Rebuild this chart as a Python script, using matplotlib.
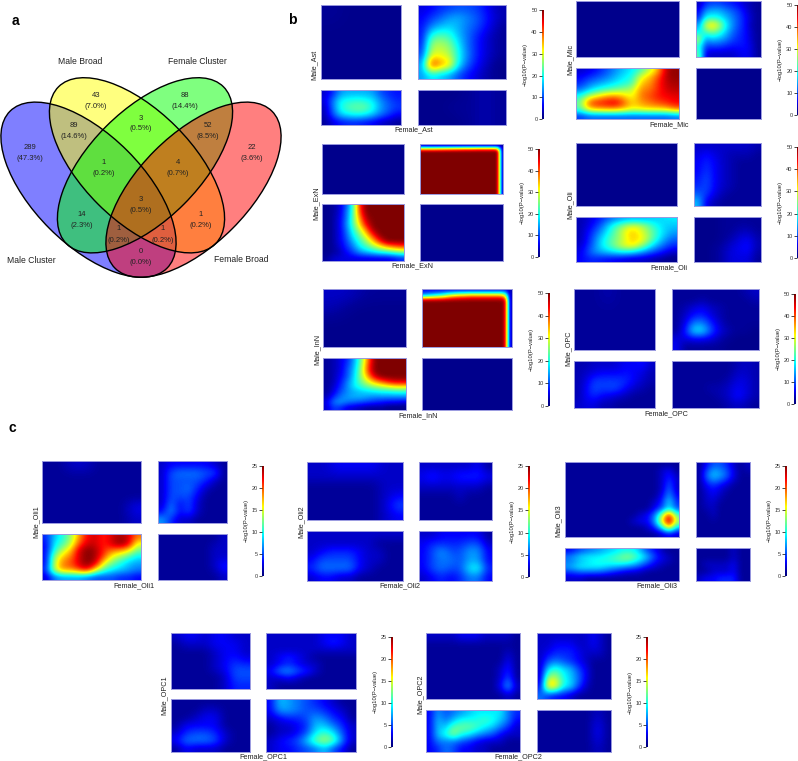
import numpy as np
import matplotlib
matplotlib.use('Agg')
import matplotlib.pyplot as plt
from matplotlib.colors import LinearSegmentedColormap
from matplotlib.patches import Ellipse

plt.rcParams['font.family'] = ['Liberation Sans', 'DejaVu Sans']

W, H = 798, 761
TEXT = '#222222'

#Venn counts
venn_names = ['Male Cluster', 'Male Broad', 'Female Cluster', 'Female Broad']
venn_counts = [289, 43, 88, 22, 89, 3, 52, 1, 4, 14, 3, 1, 1, 1, 0]
venn_pcts = ['47.3', '7.0', '14.4', '3.6', '14.6', '0.5', '8.5', '0.2', '0.7',
             '2.3', '0.5', '0.2', '0.2', '0.2', '0.0']

#colourbar ticks
ticks_b = [0, 10, 20, 30, 40, 50]
ticks_c = [0, 5, 10, 15, 20, 25]

#Heatmaps, -log10(P-value) read by eye, top row first
flat_low = [[1, 1, 1, 1], [1, 1, 1, 1], [1, 1, 1, 1]]

ast_tl = [[2, 1, 1, 1], [1, 1, 1, 1], [1, 1, 1, 1], [1, 1, 1, 1]]
ast_tr = [[5, 6, 8, 9, 10, 10, 9, 7, 4, 3],
          [6, 9, 11, 14, 15, 13, 11, 8, 5, 3],
          [7, 13, 16, 17, 15, 12, 10, 7, 4, 2],
          [7, 22, 24, 22, 16, 12, 8, 5, 3, 2],
          [8, 27, 28, 26, 19, 12, 8, 5, 3, 2],
          [10, 30, 30, 28, 20, 13, 8, 5, 3, 2],
          [14, 45, 38, 34, 19, 11, 7, 4, 2, 1],
          [14, 18, 16, 14, 10, 7, 5, 3, 2, 1]]
ast_bl = [[4, 8, 14, 15, 15, 15, 14, 10, 8, 7],
          [5, 12, 19, 20, 21, 20, 18, 13, 10, 8],
          [3, 12, 20, 23, 24, 24, 20, 14, 11, 9],
          [3, 10, 17, 19, 20, 19, 16, 12, 9, 6],
          [2, 5, 7, 8, 8, 7, 6, 4, 3, 2]]
ast_br = [[1, 1, 1, 2, 3, 2], [1, 1, 2, 2, 3, 2], [1, 1, 1, 2, 3, 2]]

exn_tr = [[3, 3, 3, 3, 3, 3, 3, 3, 3, 3, 3, 3, 3, 3, 3, 3, 3, 3, 3, 2],
          [31, 31, 31, 31, 32, 32, 33, 33, 34, 34, 35, 35, 35, 36, 36, 36, 36, 36, 33, 3]] + \
         [[50, 50, 50, 50, 50, 50, 50, 50, 50, 50, 50, 50, 50, 50, 50, 50, 50, 50, 50, 3]] * 14
exn_bl = [[1, 2, 4, 10, 20, 42, 50, 50, 50, 50, 50, 50],
          [1, 2, 4, 11, 21, 40, 50, 50, 50, 50, 50, 50],
          [1, 2, 5, 11, 22, 36, 48, 50, 50, 50, 50, 50],
          [1, 2, 5, 12, 22, 33, 45, 50, 50, 50, 50, 50],
          [1, 2, 5, 11, 20, 28, 38, 49, 50, 50, 50, 50],
          [1, 2, 5, 10, 18, 24, 32, 42, 50, 50, 50, 50],
          [1, 2, 5, 9, 15, 21, 26, 34, 43, 50, 50, 50],
          [1, 2, 4, 8, 12, 18, 22, 26, 30, 35, 38, 40],
          [1, 2, 3, 6, 9, 13, 15, 17, 19, 20, 22, 24],
          [2, 4, 5, 5, 5, 5, 5, 5, 5, 5, 6, 8]]

mic_tr = [[3, 8, 9, 9, 8, 7, 6, 4, 3, 2],
          [6, 13, 15, 15, 13, 11, 9, 6, 3, 2],
          [8, 19, 20, 19, 16, 13, 10, 7, 4, 2],
          [14, 30, 34, 29, 20, 14, 10, 7, 3, 2],
          [18, 22, 25, 22, 17, 12, 9, 7, 4, 2],
          [28, 14, 16, 15, 13, 10, 8, 7, 4, 2],
          [20, 9, 9, 9, 8, 7, 7, 7, 5, 2],
          [24, 5, 4, 4, 4, 4, 5, 6, 5, 2]]
mic_bl = [[4, 5, 7, 10, 13, 16, 18, 22, 28, 35, 48, 49],
          [6, 8, 10, 12, 15, 18, 20, 30, 34, 40, 48, 49],
          [8, 12, 14, 16, 18, 20, 22, 34, 36, 42, 47, 48],
          [12, 16, 20, 22, 24, 26, 28, 37, 38, 42, 46, 47],
          [20, 28, 32, 36, 37, 34, 30, 38, 40, 43, 44, 45],
          [24, 40, 43, 44, 46, 40, 33, 36, 38, 40, 42, 44],
          [22, 33, 35, 36, 36, 34, 31, 32, 33, 33, 34, 38],
          [9, 11, 11, 11, 11, 11, 11, 11, 11, 11, 11, 12]]

oli_tr = [[4, 4, 4, 4, 4, 4, 4, 3],
          [5, 7, 5, 4, 3, 3, 3, 2],
          [6, 8, 6, 4, 3, 2, 2, 2],
          [6, 9, 6, 4, 3, 2, 2, 2],
          [7, 10, 6, 4, 3, 2, 2, 2],
          [8, 10, 6, 4, 3, 2, 2, 2],
          [11, 9, 5, 3, 2, 2, 2, 2],
          [16, 5, 3, 2, 2, 2, 2, 2]]
oli_bl = [[3, 5, 8, 12, 14, 15, 15, 16, 17, 18],
          [3, 6, 11, 19, 25, 30, 28, 22, 17, 16],
          [3, 8, 14, 21, 28, 35, 30, 24, 18, 14],
          [3, 9, 17, 23, 27, 34, 32, 24, 16, 11],
          [4, 10, 18, 23, 29, 33, 27, 18, 12, 8],
          [5, 12, 15, 17, 19, 18, 14, 10, 7, 4],
          [6, 8, 7, 6, 5, 4, 4, 3, 2, 1]]
oli_br = [[1, 1, 1, 2, 2, 2, 2, 2],
          [1, 1, 1, 2, 2, 3, 3, 2],
          [1, 1, 1, 2, 3, 5, 6, 3],
          [1, 1, 2, 3, 5, 6, 7, 3],
          [1, 1, 2, 3, 5, 5, 5, 2]]

inn_tl = [[4, 4, 3, 2, 2, 2], [3, 2, 1, 1, 1, 1], [1, 1, 1, 1, 1, 1], [1, 1, 1, 1, 1, 1]]
inn_tr = [[6, 6, 6, 6, 6, 6, 6, 6, 6, 6, 6, 6, 6, 6, 6, 6, 6, 6, 6, 3],
          [14, 16, 18, 20, 22, 26, 30, 32, 34, 34, 36, 36, 36, 36, 36, 36, 36, 36, 30, 3]] + \
         [[50, 50, 50, 50, 50, 50, 50, 50, 50, 50, 50, 50, 50, 50, 50, 50, 50, 50, 48, 3]] * 10
inn_bl = [[2, 3, 5, 8, 14, 24, 38, 50, 50, 50, 50, 50],
          [2, 3, 5, 9, 15, 25, 40, 50, 50, 50, 50, 50],
          [2, 3, 5, 10, 16, 26, 40, 50, 50, 50, 50, 50],
          [2, 3, 6, 10, 17, 26, 36, 46, 50, 50, 50, 50],
          [2, 3, 7, 12, 18, 24, 30, 36, 40, 44, 46, 46],
          [2, 4, 8, 13, 18, 21, 24, 26, 28, 30, 32, 32],
          [2, 5, 10, 13, 15, 16, 17, 18, 19, 19, 20, 20],
          [3, 8, 12, 14, 15, 15, 14, 13, 13, 13, 13, 13],
          [5, 12, 14, 12, 11, 10, 9, 8, 7, 6, 6, 5],
          [4, 9, 8, 5, 4, 3, 2, 2, 2, 1, 1, 1]]

opc_tl = [[2, 2, 3, 2, 2, 2], [2, 2, 2, 2, 2, 2], [2, 2, 2, 2, 2, 2], [2, 2, 2, 2, 2, 2]]
opc_tr = [[2, 2, 2, 2, 2, 2, 2, 2, 3, 4],
          [2, 2, 2, 3, 2, 2, 2, 2, 2, 3],
          [2, 3, 5, 6, 4, 3, 2, 2, 2, 2],
          [2, 4, 7, 8, 5, 3, 2, 2, 2, 2],
          [2, 5, 13, 13, 8, 4, 2, 2, 2, 2],
          [2, 7, 18, 18, 10, 5, 3, 2, 2, 1],
          [5, 5, 6, 6, 5, 3, 2, 1, 1, 1],
          [6, 2, 2, 2, 2, 2, 1, 1, 1, 1]]
opc_bl = [[3, 3, 4, 4, 4, 5, 6, 6, 7, 4],
          [3, 4, 5, 6, 6, 6, 7, 6, 5, 3],
          [3, 5, 9, 9, 9, 9, 8, 6, 4, 3],
          [3, 6, 10, 9, 10, 9, 6, 4, 3, 2],
          [3, 6, 8, 6, 5, 4, 3, 2, 2, 2],
          [4, 5, 5, 3, 3, 2, 2, 2, 2, 2]]
opc_br = [[2, 2, 2, 2, 2, 2, 2, 3, 4, 3],
          [2, 2, 2, 2, 2, 2, 2, 4, 4, 3],
          [2, 2, 2, 2, 2, 2, 3, 5, 5, 3],
          [2, 2, 2, 2, 3, 3, 4, 6, 5, 3],
          [2, 2, 2, 2, 2, 3, 4, 7, 5, 3],
          [2, 2, 2, 2, 2, 2, 3, 4, 3, 2]]

oli1_tl = [[1, 1, 2, 2, 1, 1, 1, 1],
           [1, 1, 1, 1, 1, 1, 1, 1],
           [1, 1, 1, 1, 1, 1, 1, 1],
           [1, 1, 1, 1, 1, 1, 1, 1],
           [1, 1, 1, 1, 1, 1, 1, 3],
           [1, 1, 1, 1, 1, 1, 1, 2]]
oli1_tr = [[2, 3, 3, 3, 3, 3, 2, 1],
           [2, 5, 6, 6, 6, 5, 5, 1],
           [2, 5, 5, 5, 5, 4, 2, 1],
           [2, 5, 5, 6, 4, 2, 1, 1],
           [2, 5, 5, 5, 3, 1, 1, 1],
           [2, 6, 3, 5, 2, 1, 1, 1],
           [3, 7, 3, 5, 2, 1, 1, 1],
           [7, 4, 2, 2, 1, 1, 1, 1]]
oli1_bl = [[4, 8, 10, 13, 18, 22, 23, 21, 23, 24, 23, 19],
           [3, 9, 11, 14, 20, 23, 23, 21, 23, 25, 23, 15],
           [3, 10, 14, 17, 23, 25, 24, 21, 19, 18, 16, 12],
           [3, 13, 17, 19, 23, 25, 24, 20, 15, 13, 11, 9],
           [3, 14, 19, 20, 23, 25, 23, 15, 12, 10, 8, 7],
           [4, 14, 18, 18, 20, 22, 15, 11, 9, 8, 7, 6],
           [2, 6, 7, 7, 7, 6, 5, 5, 5, 4, 4, 3]]
oli1_br = [[1, 1, 1, 1, 1, 1, 1, 2],
           [1, 1, 1, 1, 1, 1, 2, 2],
           [1, 1, 1, 1, 1, 1, 2, 2],
           [1, 1, 1, 1, 1, 1, 2, 4],
           [1, 1, 1, 1, 1, 1, 1, 2]]

oli2_tl = [[2, 2, 3, 3, 3, 3, 2, 2],
           [2, 2, 2, 2, 2, 2, 2, 2],
           [1, 1, 1, 1, 1, 1, 2, 2],
           [1, 1, 1, 1, 1, 1, 2, 3],
           [1, 1, 1, 1, 1, 1, 2, 5],
           [1, 1, 1, 1, 1, 1, 2, 3]]
oli2_tr = [[2, 2, 2, 2, 2, 2, 3, 1],
           [3, 4, 3, 3, 4, 4, 4, 3],
           [2, 2, 2, 2, 2, 2, 2, 1],
           [1, 1, 1, 1, 2, 1, 1, 1],
           [1, 1, 1, 1, 1, 1, 1, 1],
           [1, 1, 1, 1, 1, 1, 1, 1]]
oli2_bl = [[2, 2, 2, 2, 2, 2, 2, 2, 2, 2],
           [2, 2, 2, 2, 2, 2, 2, 1, 1, 1],
           [2, 3, 4, 4, 4, 3, 2, 2, 1, 1],
           [3, 5, 5, 5, 5, 3, 2, 2, 1, 1],
           [4, 6, 6, 6, 6, 3, 2, 1, 1, 1],
           [2, 3, 3, 2, 2, 1, 1, 1, 1, 1]]
oli2_br = [[2, 2, 3, 3, 3, 3, 3, 1],
           [3, 4, 4, 4, 4, 5, 5, 2],
           [3, 5, 7, 5, 5, 7, 7, 3],
           [3, 5, 6, 6, 5, 7, 7, 3],
           [3, 5, 6, 5, 5, 9, 10, 4],
           [2, 3, 4, 3, 4, 6, 6, 3]]

oli3_tl = [[1, 1, 1, 1, 1, 1, 1, 1, 1, 1, 1, 1, 1, 1, 1, 1],
           [1, 1, 1, 1, 1, 1, 1, 1, 1, 1, 1, 1, 1, 2, 3, 1],
           [1, 1, 1, 1, 1, 1, 1, 1, 1, 1, 1, 1, 1, 2, 4, 2],
           [1, 1, 1, 1, 1, 1, 1, 1, 1, 1, 1, 1, 1, 2, 5, 2],
           [1, 1, 1, 1, 1, 1, 1, 1, 1, 1, 1, 1, 1, 2, 6, 2],
           [1, 1, 1, 1, 1, 1, 1, 1, 1, 1, 1, 1, 1, 3, 7, 3],
           [1, 1, 1, 1, 1, 1, 1, 1, 1, 1, 1, 1, 2, 4, 9, 4],
           [1, 1, 1, 1, 1, 1, 1, 1, 1, 1, 1, 1, 3, 5, 9, 5],
           [1, 1, 1, 1, 1, 1, 1, 1, 1, 1, 2, 3, 6, 13, 22, 11],
           [1, 1, 1, 1, 1, 1, 1, 1, 1, 2, 3, 3, 7, 16, 25, 14],
           [1, 1, 1, 1, 1, 1, 1, 1, 1, 1, 1, 2, 4, 9, 17, 8],
           [1, 1, 1, 1, 1, 1, 1, 1, 1, 1, 1, 1, 1, 2, 3, 2]]
oli3_tr = [[1, 3, 5, 5, 4, 2, 1, 2],
           [1, 6, 9, 8, 6, 3, 1, 1],
           [1, 3, 4, 3, 2, 1, 1, 1],
           [1, 2, 3, 2, 1, 1, 1, 1],
           [1, 2, 2, 1, 1, 1, 1, 1],
           [1, 1, 2, 1, 1, 1, 1, 1],
           [1, 1, 1, 1, 1, 1, 1, 1],
           [1, 1, 1, 1, 1, 1, 1, 1]]
oli3_bl = [[3, 5, 6, 7, 8, 9, 10, 9, 5, 3, 1, 1],
           [6, 8, 9, 9, 10, 11, 13, 11, 8, 4, 2, 1],
           [6, 8, 9, 10, 10, 11, 11, 9, 6, 3, 2, 1],
           [7, 9, 9, 9, 8, 7, 6, 5, 3, 2, 1, 1],
           [4, 5, 5, 5, 4, 3, 2, 2, 1, 1, 1, 1],
           [2, 2, 1, 1, 1, 1, 1, 1, 1, 1, 1, 1]]
oli3_br = [[1, 1, 1, 1, 1, 2, 1, 1],
           [1, 1, 1, 1, 1, 2, 1, 1],
           [1, 2, 2, 2, 2, 3, 1, 1],
           [1, 1, 2, 2, 2, 3, 1, 1],
           [2, 3, 3, 4, 4, 4, 1, 1]]

opc1_tl = [[2, 3, 3, 2, 3, 3, 2, 2],
           [1, 2, 2, 2, 3, 3, 3, 2],
           [1, 1, 1, 1, 2, 3, 3, 2],
           [1, 1, 1, 1, 2, 3, 4, 3],
           [1, 1, 1, 1, 2, 3, 5, 5],
           [1, 1, 1, 1, 1, 2, 5, 5],
           [1, 1, 1, 1, 1, 2, 4, 4]]
opc1_tr = [[2, 2, 2, 2, 2, 2, 3, 3, 3, 2],
           [2, 2, 2, 2, 2, 2, 3, 4, 3, 2],
           [2, 2, 2, 2, 2, 2, 2, 2, 2, 2],
           [2, 3, 4, 3, 2, 1, 1, 1, 1, 1],
           [2, 3, 4, 3, 2, 2, 1, 1, 1, 1],
           [3, 6, 7, 5, 4, 2, 1, 1, 1, 1],
           [2, 2, 3, 2, 1, 1, 1, 1, 1, 1],
           [2, 1, 1, 1, 1, 1, 1, 1, 1, 1]]
opc1_bl = [[1, 1, 1, 1, 1, 1, 1, 1],
           [1, 1, 1, 2, 2, 1, 1, 1],
           [1, 1, 2, 3, 3, 1, 1, 1],
           [1, 3, 3, 3, 3, 1, 1, 1],
           [2, 4, 5, 5, 4, 2, 1, 1],
           [3, 6, 6, 6, 5, 2, 1, 1],
           [1, 3, 2, 2, 2, 1, 1, 1]]
opc1_br = [[3, 8, 7, 6, 5, 4, 3, 2, 1, 1],
           [3, 7, 7, 6, 5, 5, 4, 3, 2, 1],
           [2, 3, 4, 4, 5, 7, 6, 4, 3, 1],
           [1, 2, 2, 3, 4, 8, 8, 6, 4, 2],
           [1, 2, 2, 3, 5, 9, 11, 9, 5, 2],
           [2, 3, 4, 5, 8, 12, 14, 12, 6, 2],
           [2, 3, 3, 4, 5, 6, 8, 5, 3, 1]]

opc2_tl = [[2, 2, 2, 2, 3, 3, 3, 2, 2, 2, 2, 1],
           [1, 1, 1, 1, 1, 1, 1, 1, 1, 1, 1, 1],
           [1, 1, 1, 1, 1, 1, 1, 1, 1, 1, 2, 1],
           [1, 1, 1, 1, 1, 1, 1, 1, 1, 1, 3, 1],
           [1, 1, 1, 1, 1, 1, 1, 1, 1, 2, 4, 1],
           [1, 1, 1, 1, 1, 1, 1, 1, 1, 2, 5, 1],
           [1, 1, 1, 1, 1, 1, 1, 1, 1, 3, 8, 2],
           [1, 1, 1, 1, 1, 1, 1, 1, 1, 1, 2, 1]]
opc2_tr = [[2, 2, 2, 2, 2, 2, 2, 3, 2, 1],
           [2, 2, 3, 3, 3, 2, 2, 3, 2, 1],
           [2, 3, 4, 4, 4, 3, 2, 2, 2, 1],
           [2, 5, 6, 5, 4, 3, 2, 1, 1, 1],
           [2, 9, 11, 9, 8, 5, 3, 1, 1, 1],
           [2, 14, 14, 10, 8, 6, 3, 1, 1, 1],
           [3, 18, 17, 10, 9, 5, 2, 1, 1, 1],
           [6, 4, 3, 3, 2, 1, 1, 1, 1, 1]]
opc2_bl = [[3, 7, 5, 6, 7, 8, 9, 9, 9, 9, 6, 4],
           [3, 8, 6, 8, 10, 10, 10, 11, 10, 8, 6, 3],
           [3, 8, 8, 12, 12, 12, 11, 9, 8, 6, 4, 2],
           [3, 8, 10, 13, 10, 9, 7, 6, 5, 3, 2, 2],
           [3, 6, 6, 6, 5, 4, 3, 2, 2, 2, 1, 1],
           [3, 4, 6, 5, 3, 3, 2, 2, 1, 1, 1, 1]]
opc2_br = [[1, 1, 1, 1, 1, 1, 2, 1],
           [1, 1, 1, 1, 1, 1, 3, 1],
           [1, 1, 1, 1, 1, 1, 3, 1],
           [1, 1, 1, 1, 1, 1, 2, 1]]

jet = LinearSegmentedColormap.from_list('jet_r', [(0, '#00007F'), (0.04, '#00009A'), (0.125, 'blue'),
                                                  (0.25, '#007FFF'), (0.375, 'cyan'), (0.5, '#7FFF7F'),
                                                  (0.625, 'yellow'), (0.75, '#FF7F00'), (0.875, 'red'),
                                                  (1, '#7F0000')])

fig = plt.figure(figsize=(W / 100, H / 100), dpi=100)
bg = fig.add_axes([0, 0, 1, 1])
bg.set_xlim(0, W)
bg.set_ylim(H, 0)
bg.axis('off')


def px_axes(x0, x1, y0, y1):
    return fig.add_axes([x0 / W, 1 - y1 / H, (x1 - x0) / W, (y1 - y0) / H])


def heat(grid, box, vmax):
    ax = px_axes(*box)
    ax.imshow(np.array(grid, dtype=float), cmap=jet, vmin=0, vmax=vmax, aspect='auto', interpolation='bicubic')
    ax.set_xticks([])
    ax.set_yticks([])
    for s in ax.spines.values():
        s.set_color('#9a9ae0')
        s.set_linewidth(0.7)


def colorbar(box, ticks, label_x):
    ax = px_axes(*box)
    ax.imshow(np.linspace(1, 0, 256).reshape(-1, 1), cmap=jet, aspect='auto',
              extent=[0, 1, ticks[0], ticks[-1]])
    ax.set_xticks([])
    ax.set_yticks(ticks)
    ax.tick_params(axis='y', length=2, width=0.5, pad=1, labelsize=4, labelcolor='#333333')
    for s in ax.spines.values():
        s.set_visible(False)
    y_mid = (box[2] + box[3]) / 2
    bg.text(label_x, y_mid, '\u2212log10(P\u2212value)', rotation=90, fontsize=4.2, color=TEXT,
            ha='center', va='center')


def rrho_set(grids, xs, ys, bar, ticks, male, male_xy, female, female_xy, label_x):
    vmax = ticks[-1]
    heat(grids[0], (xs[0], xs[1], ys[0], ys[1]), vmax)
    heat(grids[1], (xs[2], xs[3], ys[0], ys[1]), vmax)
    heat(grids[2], (xs[0], xs[1], ys[2], ys[3]), vmax)
    heat(grids[3], (xs[2], xs[3], ys[2], ys[3]), vmax)
    colorbar(bar, ticks, label_x)
    bg.text(male_xy[0], male_xy[1], male, rotation=90, fontsize=5.2, color=TEXT, ha='center', va='center')
    bg.text(female_xy[0], female_xy[1], female, fontsize=5.2, color=TEXT, ha='center', va='center')


#panel a
venn_centres = [(88.5, 189.7), (137, 165.3), (145, 165.3), (193.5, 189.7)]
venn_axes = [(111, 55, 45), (111, 55, 45), (111, 55, -45), (111, 55, -45)]
venn_colors = ['blue', 'yellow', 'lime', 'red']
for c, (a, b, ang), col in zip(venn_centres, venn_axes, venn_colors):
    bg.add_patch(Ellipse(c, 2 * a, 2 * b, angle=ang, facecolor=col, alpha=0.5, edgecolor='none'))
for c, (a, b, ang) in zip(venn_centres, venn_axes):
    bg.add_patch(Ellipse(c, 2 * a, 2 * b, angle=ang, facecolor='none', edgecolor='black', linewidth=1))

count_xy = [(29.7, 147.7), (96, 95.7), (185.3, 95.7), (252, 147.7), (74, 125.3), (141, 118),
            (207.7, 125.3), (103.7, 162.3), (178, 162.3), (81.7, 214.3), (141, 199.3),
            (200.3, 214.3), (118.7, 229), (163, 229), (141, 251.3)]
for (x, y), n, p in zip(count_xy, venn_counts, venn_pcts):
    bg.text(x, y, str(n), fontsize=5.5, color=TEXT, ha='center', va='center', zorder=5)
    bg.text(x, y + 11, '(' + p + '%)', fontsize=5.5, color=TEXT, ha='center', va='center', zorder=5)

name_xy = [(31, 260.3), (80, 61), (197.3, 61), (241, 259.7)]
for (x, y), name in zip(name_xy, venn_names):
    bg.text(x, y, name, fontsize=6.2, color=TEXT, ha='center', va='center')

for letter, x, y in [('a', 15, 21), ('b', 292, 20), ('c', 12, 428)]:
    bg.text(x, y, letter, fontsize=10, fontweight='bold', color='black', ha='center', va='center')

#panel b
rrho_set([ast_tl, ast_tr, ast_bl, ast_br], (321.3, 401, 417.7, 506.3), (5.3, 79.3, 90, 124.7),
         (541.7, 543.3, 10, 119.3), ticks_b, 'Male_Ast', (314, 65), 'Female_Ast', (414, 129.3), 525.7)
rrho_set([flat_low, exn_tr, exn_bl, flat_low], (322, 404, 420, 503.3), (144.3, 194, 204.3, 261),
         (538, 539.5, 149, 257), ticks_b, 'Male_ExN', (315.7, 202.7), 'Female_ExN', (412.7, 266), 522.3)
rrho_set([flat_low, mic_tr, mic_bl, flat_low], (576, 679.3, 696, 761), (0.7, 56.7, 67.7, 119.3),
         (796.6, 798, 4.7, 114.7), ticks_b, 'Male_Mic', (570, 59.3), 'Female_Mic', (668.7, 124.3), 780.3)
rrho_set([flat_low, oli_tr, oli_bl, oli_br], (576, 677, 694, 761), (143.3, 206, 216.7, 262.3),
         (796.6, 798, 147, 258), ticks_b, 'Male_Oli', (570, 205), 'Female_Oli', (668.7, 268), 780.7)
rrho_set([inn_tl, inn_tr, inn_bl, flat_low], (323.3, 405.7, 422.3, 512), (288.7, 347.3, 358.3, 410),
         (548.2, 549.5, 293.3, 405.7), ticks_b, 'Male_InN', (317, 349.3), 'Female_InN', (417.7, 415.3), 531.7)
rrho_set([opc_tl, opc_tr, opc_bl, opc_br], (574, 655, 672, 759), (289.3, 350.3, 361.3, 408.3),
         (794.3, 795.7, 294, 404), ticks_b, 'Male_OPC', (568, 348.7), 'Female_OPC', (666.7, 413.3), 778.7)

#panel c
rrho_set([oli1_tl, oli1_tr, oli1_bl, oli1_br], (42.3, 141, 158, 227.3), (461.3, 523.3, 534.3, 580.3),
         (262, 263.7, 465.7, 576), ticks_c, 'Male_Oli1', (35.7, 521.3), 'Female_Oli1', (134.3, 585.3), 246.7)
rrho_set([oli2_tl, oli2_tr, oli2_bl, oli2_br], (307.3, 402.7, 419.3, 492.3), (462.3, 520.3, 531.3, 581),
         (527.7, 529, 466.3, 576.7), ticks_c, 'Male_Oli2', (301, 521.7), 'Female_Oli2', (400, 585.7), 512)
rrho_set([oli3_tl, oli3_tr, oli3_bl, oli3_br], (564.7, 679, 695.7, 749.7), (462, 537.3, 548, 580.7),
         (785, 786.3, 465.7, 576), ticks_c, 'Male_Oli3', (558.3, 520.7), 'Female_Oli3', (657.3, 586), 769)
rrho_set([opc1_tl, opc1_tr, opc1_bl, opc1_br], (171, 249.7, 266, 356), (632.7, 689, 699.3, 751.7),
         (391.3, 392.7, 636.7, 747), ticks_c, 'Male_OPC1', (164.3, 695), 'Female_OPC1', (263.3, 756.7), 375.3)
rrho_set([opc2_tl, opc2_tr, opc2_bl, opc2_br], (426, 520, 536.7, 611.3), (632.7, 699.3, 710, 751.7),
         (646, 647.7, 637, 747.3), ticks_c, 'Male_OPC2', (420, 694), 'Female_OPC2', (518.3, 756.7), 630.7)

fig.savefig('out.png', dpi=100)
